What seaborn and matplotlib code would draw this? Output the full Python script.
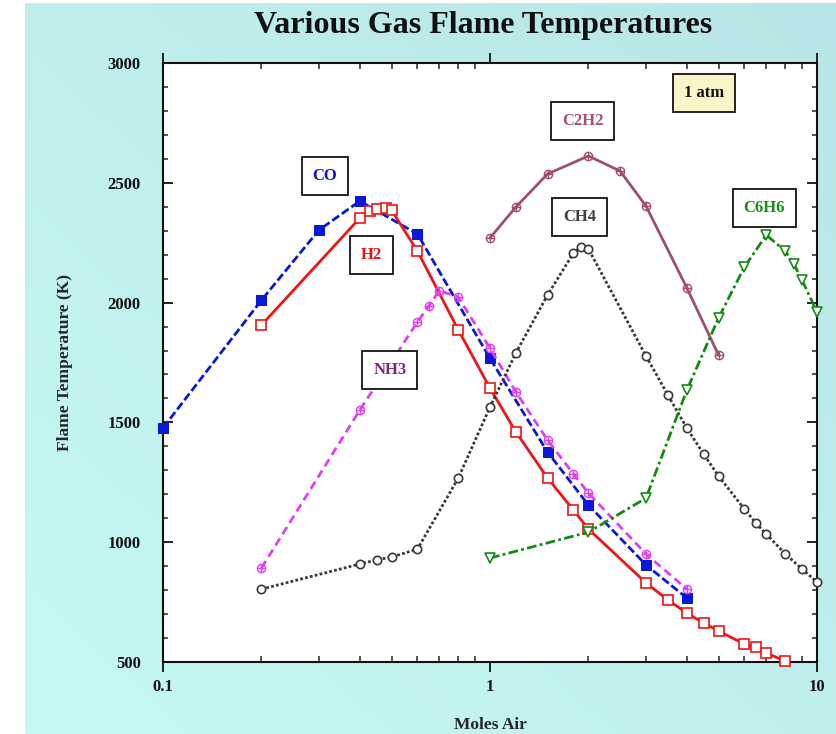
"""Various Gas Flame Temperatures"""

import numpy as np
import matplotlib
matplotlib.use("Agg")
import matplotlib.pyplot as plt
import seaborn as sns
from matplotlib.path import Path
from matplotlib.ticker import FixedLocator, MultipleLocator, NullFormatter, LogLocator

# Данные (моль воздуха -> температура пламени, K)
co_air = [0.1, 0.2, 0.3, 0.4, 0.6, 1.0, 1.5, 2.0, 3.0, 4.0]
co_temp = [1477, 2010, 2303, 2424, 2286, 1767, 1376, 1155, 905, 767]

h2_air = [0.2, 0.4, 0.43, 0.45, 0.48, 0.5, 0.6, 0.8, 1.0, 1.2, 1.5, 1.8, 2.0,
          3.0, 3.5, 4.0, 4.5, 5.0, 6.0, 6.5, 7.0, 8.0]
h2_temp = [1906, 2353, 2382, 2390, 2395, 2386, 2215, 1886, 1643, 1460, 1268, 1134, 1055,
           830, 759, 704, 663, 629, 575, 562, 537, 504]

nh3_air = [0.2, 0.4, 0.6, 0.65, 0.7, 0.8, 1.0, 1.2, 1.5, 1.8, 2.0, 3.0, 4.0]
nh3_temp = [892, 1552, 1919, 1986, 2050, 2023, 1810, 1627, 1426, 1285, 1205, 951, 804]

ch4_air = [0.2, 0.4, 0.45, 0.5, 0.6, 0.8, 1.0, 1.2, 1.5, 1.8, 1.9, 2.0, 3.0, 3.5, 4.0,
           4.5, 5.0, 6.0, 6.5, 7.0, 8.0, 9.0, 10.0]
ch4_temp = [804, 909, 926, 938, 971, 1268, 1564, 1790, 2032, 2207, 2232, 2224, 1777, 1614, 1476,
            1368, 1276, 1138, 1080, 1034, 951, 888, 834]

c2h2_air = [1.0, 1.2, 1.5, 2.0, 2.5, 3.0, 4.0, 5.0]
c2h2_temp = [2270, 2399, 2537, 2612, 2549, 2403, 2061, 1781]

c6h6_air = [1.0, 2.0, 3.0, 4.0, 5.0, 6.0, 7.0, 8.0, 8.5, 9.0, 10.0]
c6h6_temp = [934, 1042, 1184, 1635, 1936, 2149, 2282, 2215, 2161, 2094, 1961]

SERIF = ["Liberation Serif", "DejaVu Serif"]

sns.set_style("ticks")
plt.rcParams["font.family"] = SERIF
plt.rcParams["font.weight"] = "bold"

# маркер "кружок с крестом"
circ = Path.unit_circle()
cross = Path([[-1, 0], [1, 0], [0, -1], [0, 1]],
             [Path.MOVETO, Path.LINETO, Path.MOVETO, Path.LINETO])
oplus = Path.make_compound_path(circ, cross)

fig = plt.figure(figsize=(8.36, 7.34), dpi=100)
fig.patch.set_facecolor("white")

# фон с градиентом
bg = fig.add_axes([25 / 836, 0, 811 / 836, 731 / 734], zorder=-10)
u, v = np.meshgrid(np.linspace(0, 1, 200), np.linspace(0, 1, 200))
t = np.clip((u + v) / 2, 0, 1)
c0 = np.array([198, 249, 243]) / 255
c1 = np.array([184, 230, 230]) / 255
grad = c0[None, None, :] * (1 - t[..., None]) + c1[None, None, :] * t[..., None]
bg.imshow(grad, origin="lower", aspect="auto", extent=[0, 1, 0, 1])
bg.set_axis_off()

ax = fig.add_axes([163 / 836, 1 - 662 / 734, 654 / 836, 599 / 734])
ax.set_facecolor("white")

lw = 2.0
series = [
    (co_air, co_temp, "#0a18d8", (0, (3.0, 1.2)), "s", dict(mfc="#0a18d8", ms=6.5)),
    (h2_air, h2_temp, "#f01414", "-", "s", dict(mfc="white", ms=6.5, mew=1.2)),
    (nh3_air, nh3_temp, "#e040f0", (0, (3.0, 1.8)), oplus, dict(mfc="none", ms=6, mew=1.0)),
    (ch4_air, ch4_temp, "#3a3a3a", (0, (1.0, 0.8)), "o", dict(mfc="white", ms=6, mew=1.2)),
    (c2h2_air, c2h2_temp, "#a0506c", "-", oplus, dict(mfc="none", ms=6, mew=1.0)),
    (c6h6_air, c6h6_temp, "#128c12", (0, (3.5, 1.2, 1.0, 1.2)), "v", dict(mfc="white", ms=6.5, mew=1.2)),
]
for xs, ys, col, ls, mk, mkw in series:
    sns.lineplot(x=xs, y=ys, ax=ax, color=col, linestyle=ls, linewidth=lw,
                 marker=mk, markeredgecolor=col, errorbar=None, clip_on=False,
                 zorder=3, **mkw)

ax.set_xscale("log")
ax.set_xlim(0.1, 10)
ax.set_ylim(500, 3000)

ax.xaxis.set_major_locator(FixedLocator([0.1, 1, 10]))
ax.set_xticklabels(["0.1", "1", "10"])
ax.xaxis.set_minor_locator(LogLocator(base=10, subs=np.arange(2, 10)))
ax.xaxis.set_minor_formatter(NullFormatter())
ax.yaxis.set_major_locator(MultipleLocator(500))
ax.yaxis.set_minor_locator(MultipleLocator(100))

ax.tick_params(axis="x", which="major", direction="out", length=7, width=1.3,
               top=True, bottom=True, labelsize=12, pad=5, colors="#111111")
ax.tick_params(axis="x", which="minor", direction="in", length=4, width=1.1,
               top=True, bottom=True)
ax.tick_params(axis="y", which="major", direction="in", length=7, width=1.3,
               left=True, right=True, labelsize=12, pad=16, colors="#111111")
ax.tick_params(axis="y", which="minor", direction="in", length=3.5, width=1.1,
               left=True, right=True)
for lab in ax.get_xticklabels() + ax.get_yticklabels():
    lab.set_fontweight("bold")
for sp in ax.spines.values():
    sp.set_linewidth(1.5)
    sp.set_color("#111111")

ax.set_xlabel("Moles Air", fontsize=12.5, fontweight="bold", labelpad=16)
ax.set_ylabel("Flame Temperature (K)", fontsize=12.5, fontweight="bold", labelpad=25)

fig.text(0.578, 0.965, "Various Gas Flame Temperatures", ha="center", va="center",
         fontsize=23, fontweight="bold", color="#111111")

# подписи серий
labels = [
    ("CO", 0.313, 2528, "#1414d0", "white"),
    ("H2", 0.435, 2199, "#e01414", "white"),
    ("NH3", 0.494, 1719, "#7a2a7a", "white"),
    ("C2H2", 1.92, 2758, "#a8506c", "white"),
    ("CH4", 1.88, 2357, "#404040", "white"),
    ("C6H6", 6.89, 2395, "#189018", "white"),
    ("1 atm", 4.51, 2875, "#111111", "#f8f6c8"),
]
for txt, x, y, col, fc in labels:
    ax.text(x, y, txt, ha="center", va="center", fontsize=12, fontweight="bold",
            color=col, zorder=5,
            bbox=dict(boxstyle="square,pad=0.65", fc=fc, ec="#111111", lw=1.3))

fig.savefig("out.png", dpi=100)
